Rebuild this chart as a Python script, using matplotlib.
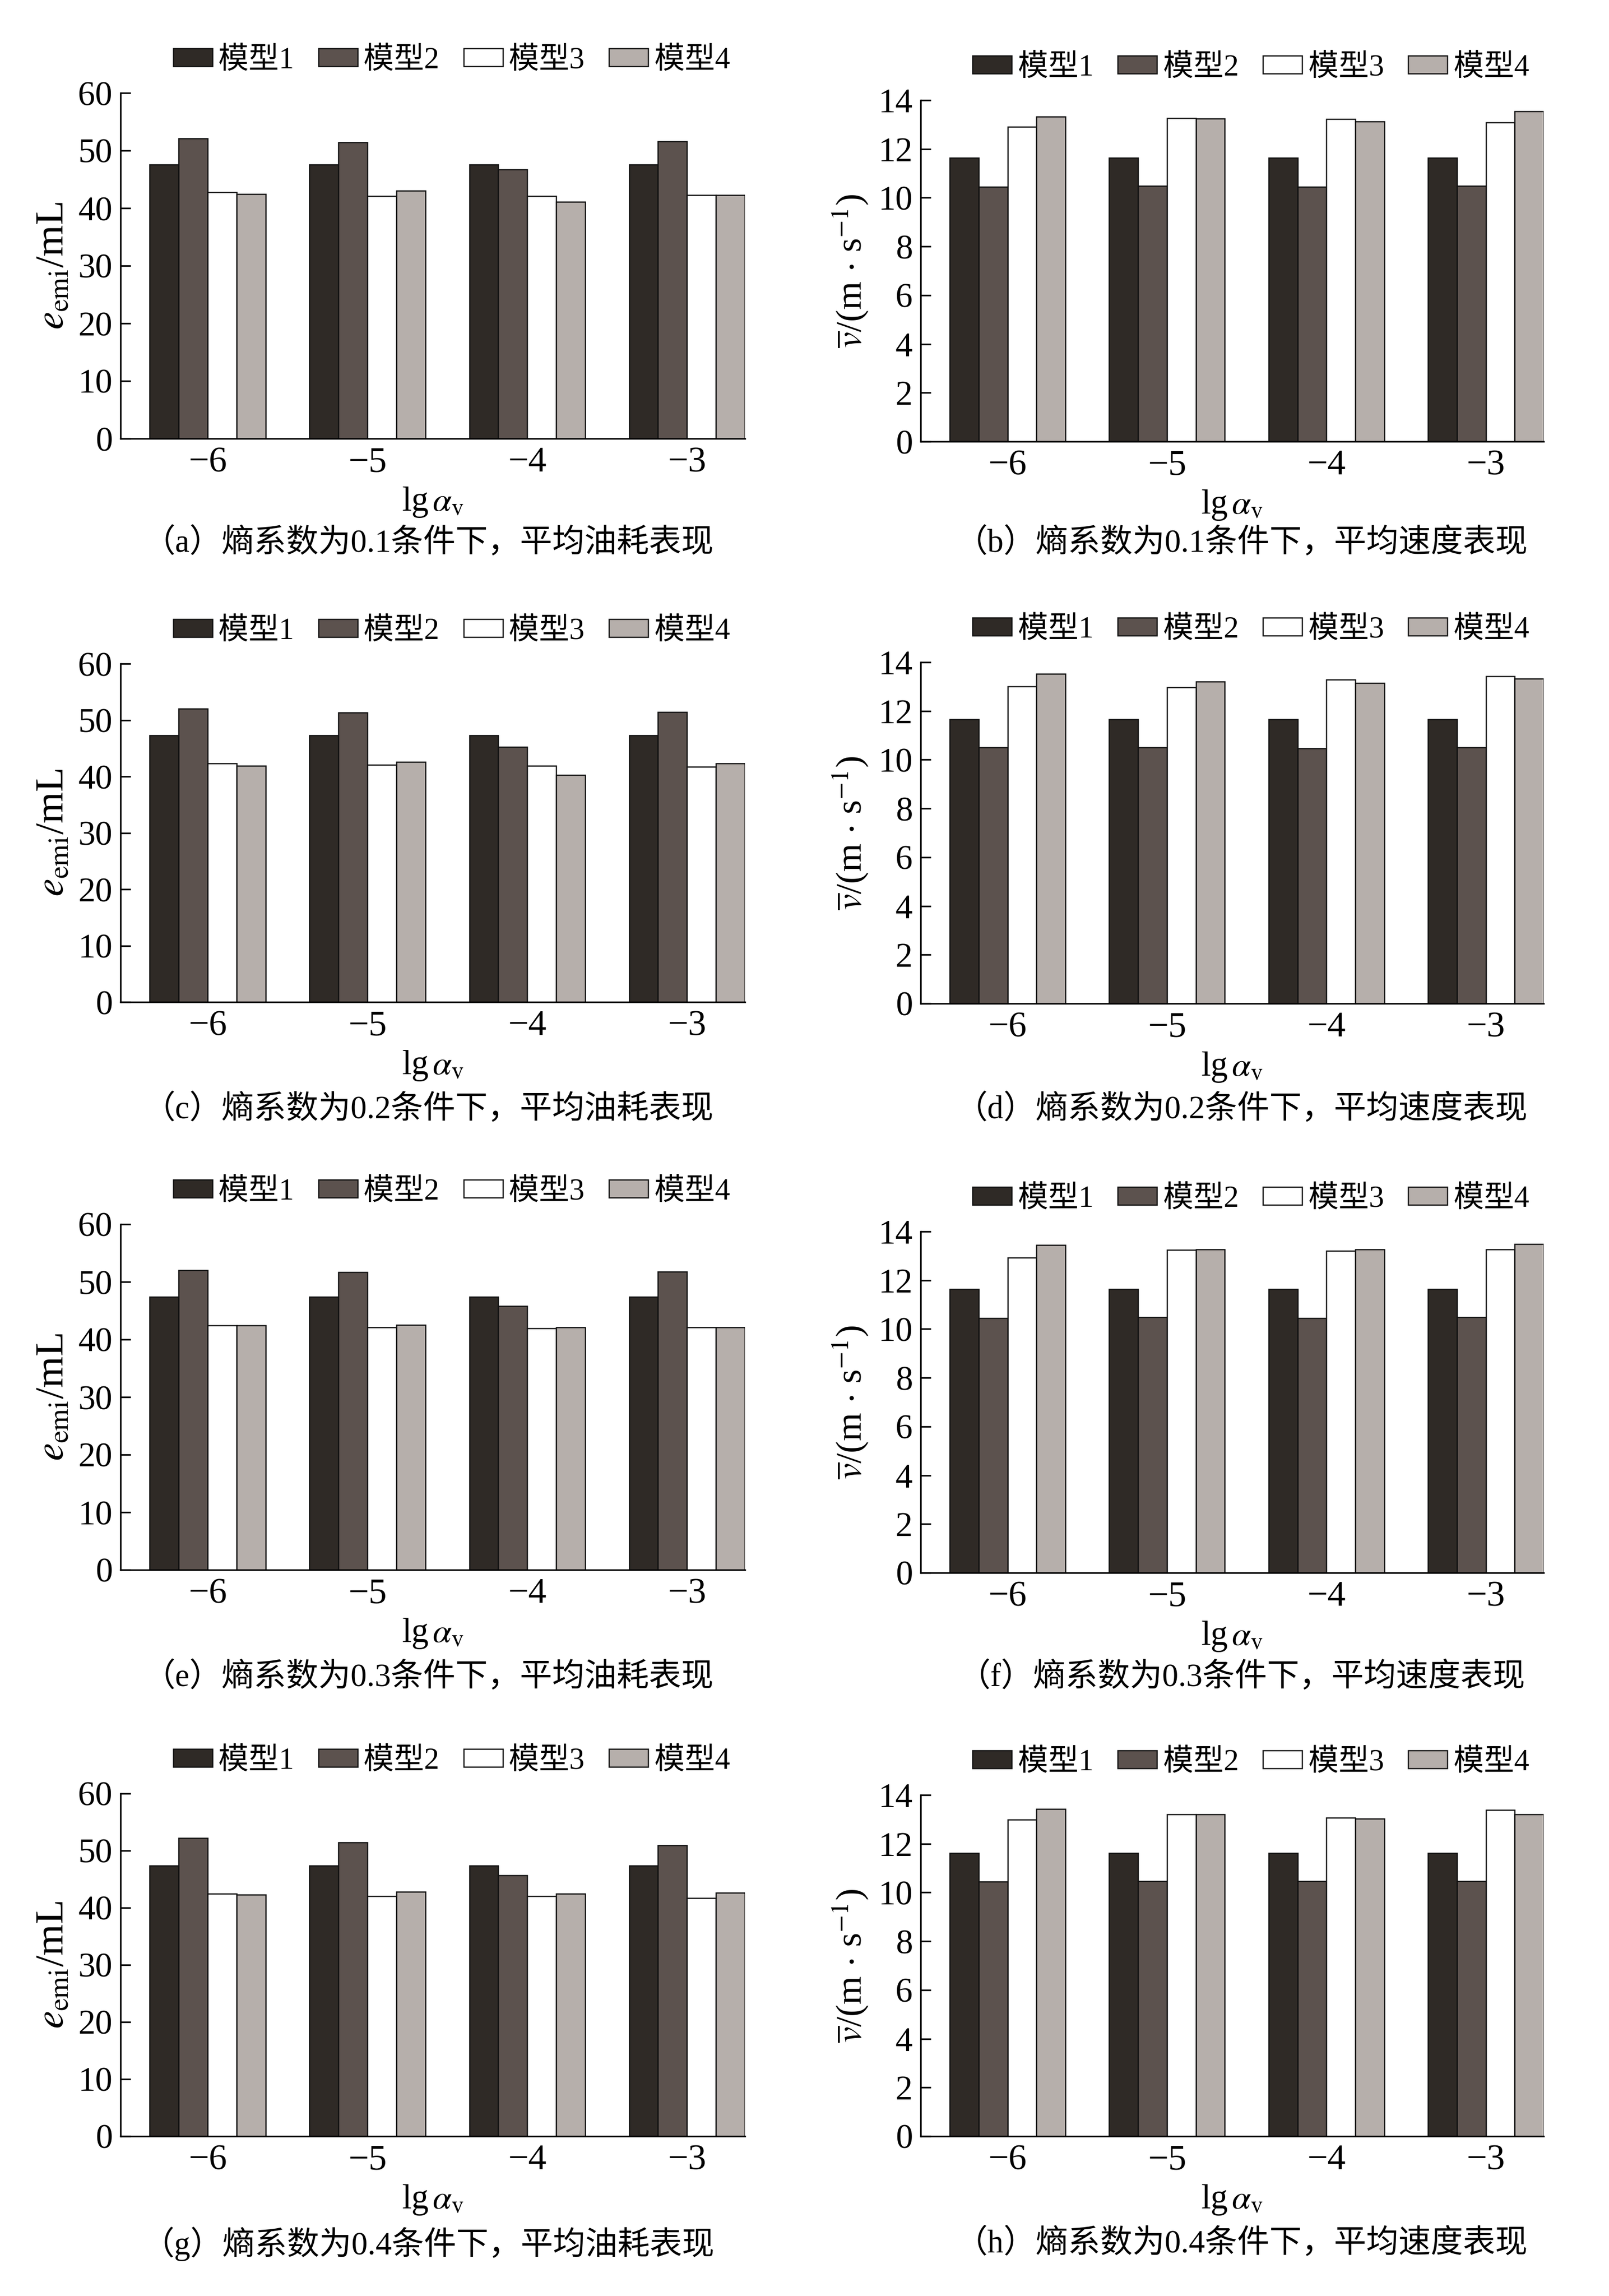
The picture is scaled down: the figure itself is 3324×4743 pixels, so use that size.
import matplotlib
matplotlib.use("Agg")
import matplotlib.pyplot as plt
import numpy as np

plt.rcParams['font.family'] = ['Liberation Serif', 'Noto Sans CJK SC', 'DejaVu Sans']
plt.rcParams['mathtext.fontset'] = 'stix'

lg_alpha = ['−6', '−5', '−4', '−3']
models = ['模型1', '模型2', '模型3', '模型4']
colors = ['#2f2a26', '#5c524e', '#ffffff', '#b6afab']

# 平均油耗 e_emi / mL  (rows: 模型1..4, cols: lgαv = -6..-3)
fuel_01 = [[47.6, 47.6, 47.6, 47.6],
           [52.1, 51.4, 46.7, 51.6],
           [42.8, 42.1, 42.1, 42.3],
           [42.4, 43.0, 41.1, 42.3]]
fuel_02 = [[47.3, 47.3, 47.3, 47.3],
           [52.0, 51.3, 45.2, 51.4],
           [42.3, 42.1, 41.9, 41.7],
           [41.9, 42.6, 40.3, 42.3]]
fuel_03 = [[47.4, 47.4, 47.4, 47.4],
           [52.0, 51.7, 45.8, 51.8],
           [42.4, 42.1, 41.9, 42.1],
           [42.4, 42.5, 42.1, 42.1]]
fuel_04 = [[47.4, 47.4, 47.4, 47.4],
           [52.2, 51.4, 45.7, 50.9],
           [42.5, 42.0, 42.0, 41.7],
           [42.3, 42.8, 42.5, 42.6]]

# 平均速度 v / (m/s)
speed_01 = [[11.63, 11.63, 11.63, 11.63],
            [10.45, 10.49, 10.45, 10.49],
            [12.91, 13.27, 13.22, 13.08],
            [13.33, 13.24, 13.12, 13.54]]
speed_02 = [[11.65, 11.65, 11.65, 11.65],
            [10.51, 10.51, 10.47, 10.51],
            [13.00, 12.96, 13.29, 13.42],
            [13.52, 13.20, 13.15, 13.33]]
speed_03 = [[11.63, 11.63, 11.63, 11.63],
            [10.44, 10.49, 10.44, 10.49],
            [12.93, 13.24, 13.21, 13.26],
            [13.44, 13.26, 13.26, 13.48]]
speed_04 = [[11.62, 11.62, 11.62, 11.62],
            [10.44, 10.47, 10.47, 10.47],
            [12.99, 13.20, 13.06, 13.38],
            [13.43, 13.21, 13.02, 13.20]]

captions = ['（a）熵系数为0.1条件下，平均油耗表现',
            '（b）熵系数为0.1条件下，平均速度表现',
            '（c）熵系数为0.2条件下，平均油耗表现',
            '（d）熵系数为0.2条件下，平均速度表现',
            '（e）熵系数为0.3条件下，平均油耗表现',
            '（f）熵系数为0.3条件下，平均速度表现',
            '（g）熵系数为0.4条件下，平均油耗表现',
            '（h）熵系数为0.4条件下，平均速度表现']

W, H = 1108.0, 1581.0
fig = plt.figure(figsize=(W / 100, H / 100), dpi=300)

# (left, right, top, bottom) in overview pixels
boxes = [(83, 513, 64, 302), (634, 1063, 69, 304),
         (83, 513, 457, 690), (634, 1063, 456, 691),
         (83, 513, 843, 1081), (634, 1063, 848, 1083),
         (83, 513, 1235, 1471), (634, 1063, 1236, 1471)]
cap_y = [374, 374, 764, 764, 1155, 1155, 1545, 1545]
cap_x = [295, 855]

datasets = [fuel_01, speed_01, fuel_02, speed_02, fuel_03, speed_03, fuel_04, speed_04]

x = np.arange(len(lg_alpha))
bw = 0.18125

for i, data in enumerate(datasets):
    l, r, t, b = boxes[i]
    ax = fig.add_axes([l / W, 1 - b / H, (r - l) / W, (b - t) / H])
    for k in range(4):
        ax.bar(x + (k - 1.5) * bw, data[k], width=bw, color=colors[k],
               edgecolor='#111111', linewidth=0.6, label=models[k])
    ax.set_xlim(-0.545, 3.3625)
    if i % 2 == 0:
        ax.set_ylim(0, 60)
        ax.set_yticks(range(0, 61, 10))
        ax.set_ylabel(r'$e_{\mathrm{emi}}$/mL', fontsize=20, labelpad=3)
    else:
        ax.set_ylim(0, 14)
        ax.set_yticks(range(0, 15, 2))
        ax.set_ylabel(r'$\overline{v}$/(m$\,\cdot\,$s$^{-1}$)', fontsize=18, labelpad=4)
    ax.set_xticks(x)
    ax.set_xticklabels(lg_alpha)
    ax.set_xlabel(r'lg$\,\alpha_{\mathrm{v}}$', fontsize=17, labelpad=3)
    ax.tick_params(axis='y', direction='in', length=5, width=0.8, labelsize=17, pad=4)
    ax.tick_params(axis='x', length=0, labelsize=18, pad=4)
    ax.spines['top'].set_visible(False)
    ax.spines['right'].set_visible(False)
    ax.spines['left'].set_linewidth(0.8)
    ax.spines['bottom'].set_linewidth(0.8)
    ax.legend(loc='lower center', bbox_to_anchor=(0.53, 1.0), ncol=4, frameon=False,
              fontsize=15, handlelength=1.3, handleheight=0.55, handletextpad=0.2,
              columnspacing=0.8, borderaxespad=0.2)
    fig.text(cap_x[i % 2] / W, 1 - cap_y[i] / H, captions[i], fontsize=16,
             ha='center', va='center')

fig.savefig('out.png', dpi=300)
